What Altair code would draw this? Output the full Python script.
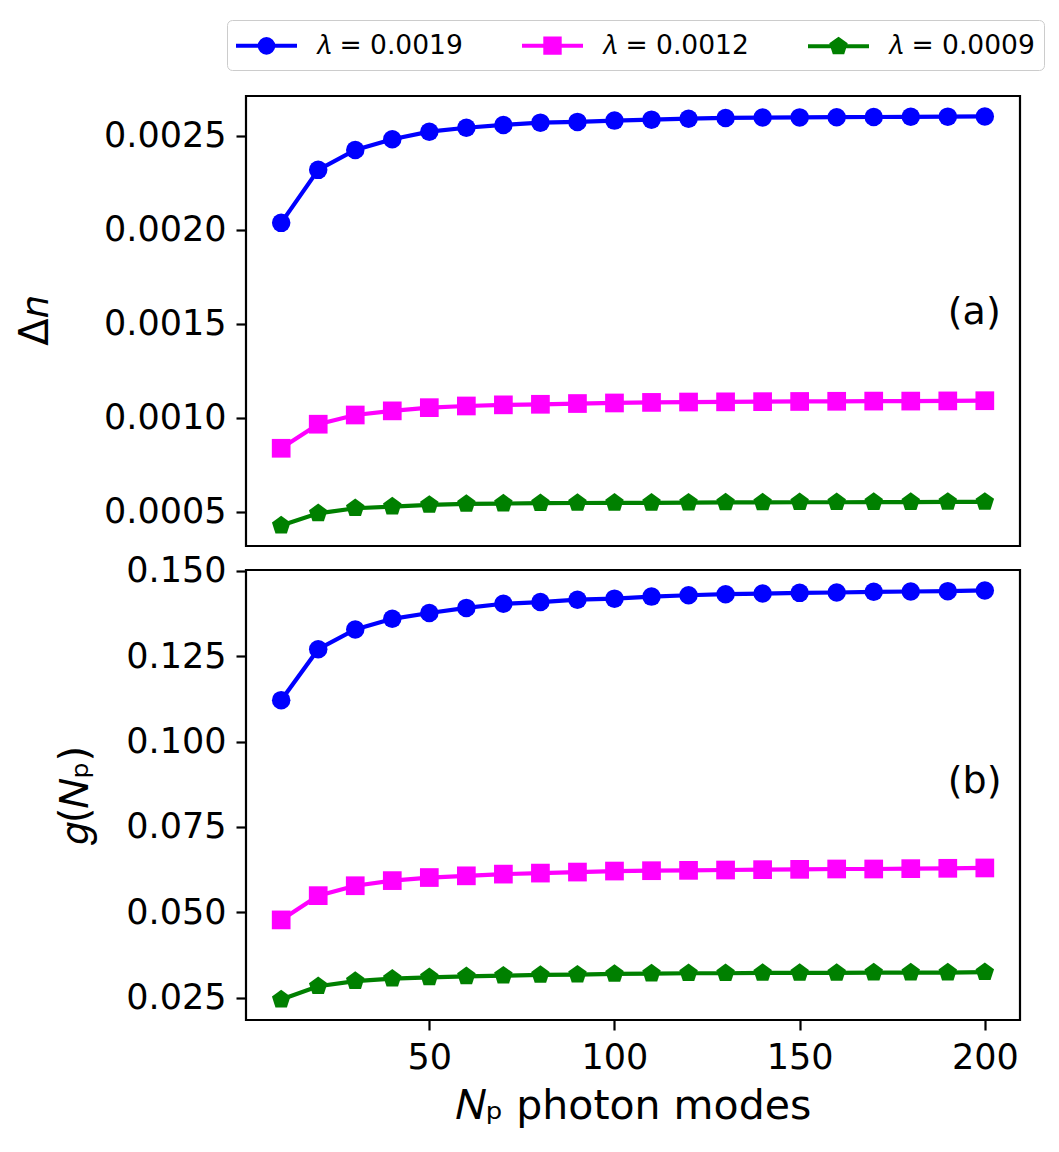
import altair as alt
import pandas as pd

# ---------------- data ----------------
x_modes = [10, 20, 30, 40, 50, 60, 70, 80, 90, 100,
           110, 120, 130, 140, 150, 160, 170, 180, 190, 200]

series_labels = ["𝜆 = 0.0019", "𝜆 = 0.0012", "𝜆 = 0.0009"]
series_colors = ["#0000ff", "#ff00ff", "#008000"]

# panel (a): Delta n
dn_0019 = [0.002036, 0.002318, 0.002424, 0.002481, 0.002521, 0.002542, 0.002557,
           0.002569, 0.002573, 0.002580, 0.002585, 0.002590, 0.002594, 0.002596,
           0.002597, 0.002598, 0.002599, 0.002600, 0.002601, 0.002602]
dn_0012 = [0.000837, 0.000965, 0.001014, 0.001036, 0.001053, 0.001062, 0.001068,
           0.001071, 0.001075, 0.001078, 0.001081, 0.001083, 0.001084, 0.001085,
           0.001086, 0.001087, 0.001088, 0.001088, 0.001089, 0.001090]
dn_0009 = [0.000426, 0.000491, 0.000518, 0.000527, 0.000536, 0.000541, 0.000543,
           0.000545, 0.000546, 0.000547, 0.000547, 0.000548, 0.000549, 0.000549,
           0.000550, 0.000550, 0.000551, 0.000551, 0.000552, 0.000552]

# panel (b): g(N_p)
g_0019 = [0.1121, 0.1270, 0.1328, 0.1359, 0.1376, 0.1391, 0.1403, 0.1408, 0.1415, 0.1418,
          0.1424, 0.1428, 0.1431, 0.1433, 0.1435, 0.1436, 0.1438, 0.1439, 0.1440, 0.1442]
g_0012 = [0.0478, 0.0549, 0.0578, 0.0593, 0.0602, 0.0607, 0.0612, 0.0615, 0.0618, 0.0621,
          0.0622, 0.0623, 0.0624, 0.0625, 0.0626, 0.0627, 0.0627, 0.0628, 0.0629, 0.0630]
g_0009 = [0.0245, 0.0284, 0.0299, 0.0306, 0.0310, 0.0313, 0.0315, 0.0317, 0.0318, 0.0320,
          0.0321, 0.0322, 0.0322, 0.0323, 0.0323, 0.0323, 0.0324, 0.0324, 0.0324, 0.0325]

panel_text = ["(a)", "(b)"]
panel_text_x = [190, 190]
panel_text_y = [0.0015, 0.085]

xticks = [50, 100, 150, 200]
yticks_a = [0.0005, 0.0010, 0.0015, 0.0020, 0.0025]
yticks_b = [0.025, 0.050, 0.075, 0.100, 0.125, 0.150]

# ---------------- helpers ----------------
def long_df(cols):
    rows = []
    for lab, vals in zip(series_labels, cols):
        for xv, yv in zip(x_modes, vals):
            rows.append({"x": xv, "y": yv, "series": lab})
    return pd.DataFrame(rows)


def padded(lists, frac=0.05):
    allv = [v for l in lists for v in l]
    lo, hi = min(allv), max(allv)
    r = hi - lo
    return [lo - frac * r, hi + frac * r]


df_a = long_df([dn_0019, dn_0012, dn_0009])
df_b = long_df([g_0019, g_0012, g_0009])
ann_a = pd.DataFrame({"x": [panel_text_x[0]], "y": [panel_text_y[0]], "t": [panel_text[0]]})
ann_b = pd.DataFrame({"x": [panel_text_x[1]], "y": [panel_text_y[1]], "t": [panel_text[1]]})

x_domain = padded([x_modes])
y_domain_a = padded([dn_0019, dn_0012, dn_0009])
y_domain_b = padded([g_0019, g_0012, g_0009])

FONT = "DejaVu Sans"
PENT = "M0,-1L0.951,-0.309L0.588,0.809L-0.588,0.809L-0.951,-0.309Z"
marker_shapes = ["circle", "square", PENT]
marker_sizes = [342, 350, 378]

# legend symbols: a line plus a marker drawn as concentric outlines (stroke only)
LEG_SIZE = 841            # sqrt = 29 px -> one path unit = 14.5 px
U = 14.5
HALF_LINE = 30.5 / U      # 61 px long line

def circ(r):
    return f"M{r:.4f},0A{r:.4f},{r:.4f},0,1,1,{-r:.4f},0A{r:.4f},{r:.4f},0,1,1,{r:.4f},0Z"

def sq(h):
    return f"M{-h:.4f},{-h:.4f}H{h:.4f}V{h:.4f}H{-h:.4f}Z"

def pent(R):
    pts = [(0, -1), (0.951, -0.309), (0.588, 0.809), (-0.588, 0.809), (-0.951, -0.309)]
    return "M" + "L".join(f"{px * R:.4f},{py * R:.4f}" for px, py in pts) + "Z"

LINE = f"M{-HALF_LINE:.4f},0H{HALF_LINE:.4f}"
LEG_SHAPES = [
    LINE + circ(6.8 / U) + circ(2.8 / U),
    LINE + sq(7.2 / U) + sq(3.2 / U),
    LINE + pent(7.2 / U) + pent(3.6 / U),
]

color_scale = alt.Scale(domain=series_labels, range=series_colors)
shape_scale = alt.Scale(domain=series_labels, range=LEG_SHAPES)

LEGEND = alt.Legend(
    title=None, orient="none", legendX=-19, legendY=-76, direction="horizontal",
    labelFont=FONT, labelFontSize=26.5, labelColor="black", labelLimit=400,
    symbolSize=LEG_SIZE, symbolStrokeWidth=4, symbolOpacity=1,
    symbolOffset=14, labelOffset=33,
    strokeColor="#cccccc", fillColor="white", cornerRadius=5, padding=9,
    columnPadding=51,
)


def panel(df, ann, ydomain, yaxis, show_x, with_legend):
    xaxis = (alt.Axis(values=xticks, format="d", title="𝑁ₚ photon modes",
                      titlePadding=11, titleFontSize=41) if show_x else None)
    xs = alt.Scale(domain=x_domain, nice=False, zero=False)
    ys = alt.Scale(domain=ydomain, nice=False, zero=False)
    X = alt.X("x:Q", scale=xs, axis=xaxis)
    Y = alt.Y("y:Q", scale=ys, axis=yaxis)
    base = alt.Chart(df).encode(
        x=X, y=Y,
        color=alt.Color("series:N", scale=color_scale, legend=None),
    )
    layers = []
    if with_legend:
        # invisible layer that only carries the legend (line + marker symbols)
        layers.append(
            base.mark_point(filled=False, opacity=0).encode(
                color=alt.Color("series:N", scale=color_scale, legend=LEGEND),
                shape=alt.Shape("series:N", scale=shape_scale, legend=LEGEND),
            )
        )
    layers.append(base.mark_line(strokeWidth=4.2))
    for lab, shp, sz in zip(series_labels, marker_shapes, marker_sizes):
        layers.append(
            base.transform_filter(alt.datum.series == lab)
            .mark_point(shape=shp, size=sz, filled=True, opacity=1)
        )
    layers.append(
        alt.Chart(ann).mark_text(align="left", baseline="alphabetic", font=FONT,
                                 fontSize=38, color="black")
        .encode(x=X, y=Y, text="t:N")
    )
    return alt.layer(*layers).properties(width=774, height=450)


top = panel(df_a, ann_a, y_domain_a,
            alt.Axis(values=yticks_a, format=".4f", title="Δ𝑛", titlePadding=48),
            show_x=False, with_legend=True)
bottom = panel(df_b, ann_b, y_domain_b,
               alt.Axis(values=yticks_b, format=".3f", title="𝑔(𝑁ₚ)", titlePadding=30),
               show_x=True, with_legend=False)

chart = (
    alt.vconcat(top, bottom, spacing=24, bounds="flush")
    .properties(padding={"left": 6, "top": 11, "right": 0, "bottom": 5})
    .configure(font=FONT)
    .configure_view(stroke="black", strokeWidth=2.2)
    .configure_axis(domain=False, grid=False, ticks=True, tickColor="black",
                    tickWidth=2.2, tickSize=10, labelFont=FONT, labelFontSize=35,
                    labelColor="black", labelPadding=10, titleFont=FONT,
                    titleFontSize=40, titleFontWeight="normal", titleColor="black")
)

chart.save("out.html", embed_options={"renderer": "svg", "actions": False})
